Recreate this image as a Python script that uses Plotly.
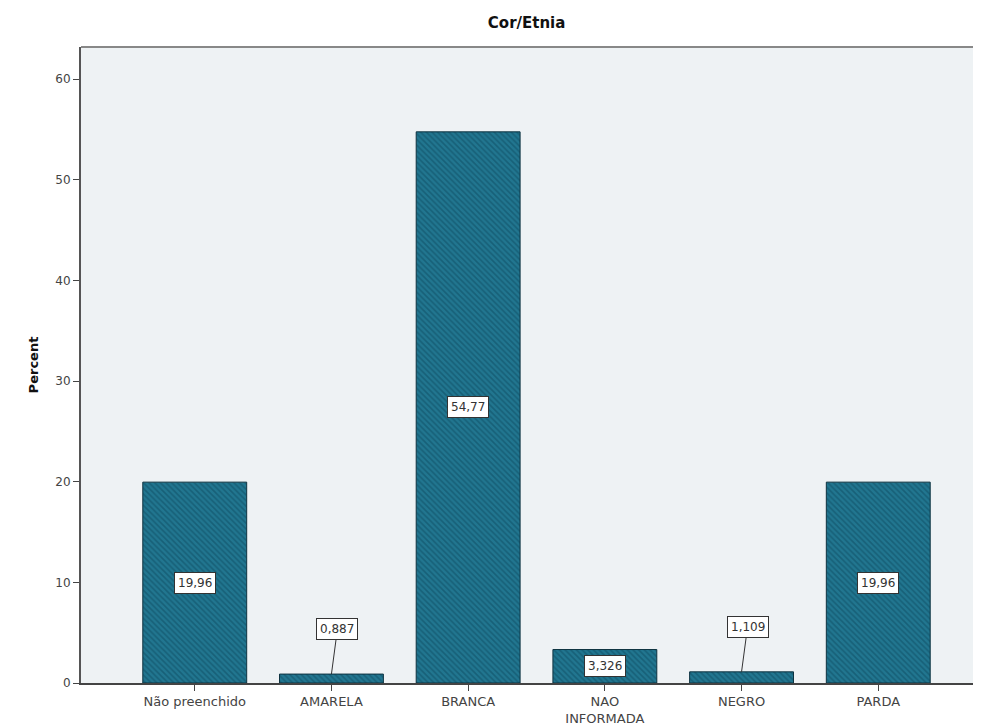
import plotly.graph_objects as go

categories = ["Não preenchido", "AMARELA", "BRANCA", "NAO<br>INFORMADA", "NEGRO", "PARDA"]
values = [19.96, 0.887, 54.77, 3.326, 1.109, 19.96]
labels = ["19,96", "0,887", "54,77", "3,326", "1,109", "19,96"]
y_ticks = [0, 10, 20, 30, 40, 50, 60]

FONT = "DejaVu Sans, Liberation Sans, Arial"

fig = go.Figure()
fig.add_trace(go.Bar(
    x=list(range(len(categories))), y=values, width=0.76,
    marker=dict(color="#217690", line=dict(color="#0e3340", width=1),
                pattern=dict(shape="\\", fgcolor="#0e4a5f", size=4, solidity=0.4)),
    hoverinfo="skip", showlegend=False,
))

for i, (v, t) in enumerate(zip(values, labels)):
    if v > 3:
        fig.add_annotation(x=i, y=v / 2, text=t, showarrow=False,
                           bgcolor="white", bordercolor="#333", borderwidth=1, borderpad=3,
                           font=dict(family=FONT, size=12, color="#333"))
    else:
        fig.add_annotation(x=i, y=v, text=t, showarrow=True, arrowhead=0, arrowwidth=1,
                           arrowcolor="#333", ax=6, ay=-45, standoff=0,
                           bgcolor="white", bordercolor="#333", borderwidth=1, borderpad=3,
                           font=dict(family=FONT, size=12, color="#333"))

fig.update_layout(
    width=973, height=718,
    margin=dict(l=73, r=8, t=39, b=43, autoexpand=False),
    paper_bgcolor="white", plot_bgcolor="#eef2f4",
    title=dict(text="<b>Cor/Etnia</b>", x=0.533, xanchor="center", y=0.98, yanchor="middle",
               font=dict(family=FONT, size=15, color="#111")),
    font=dict(family=FONT, size=12, color="#333"),
)
fig.update_xaxes(
    tickmode="array", tickvals=list(range(len(categories))), ticktext=categories,
    range=[-0.832, 5.693], showgrid=False, zeroline=False, automargin=False,
    showline=True, linecolor="#444", linewidth=1.5,
    ticks="outside", ticklen=6, tickcolor="#444", tickfont=dict(family=FONT, size=13, color="#444"),
)
fig.update_yaxes(
    range=[0, 63.2], tickvals=y_ticks, showgrid=False, zeroline=False, automargin=False,
    showline=True, linecolor="#555", linewidth=2, mirror=False,
    ticks="outside", ticklen=6, tickcolor="#444", tickfont=dict(family=FONT, size=12, color="#444"),
    title=dict(text="<b>Percent</b>", font=dict(family=FONT, size=13, color="#111"), standoff=14),
)
fig.add_shape(type="line", xref="paper", yref="paper", x0=0, x1=1, y0=1, y1=1,
              line=dict(color="#888", width=2))

fig.write_html("out.html")
